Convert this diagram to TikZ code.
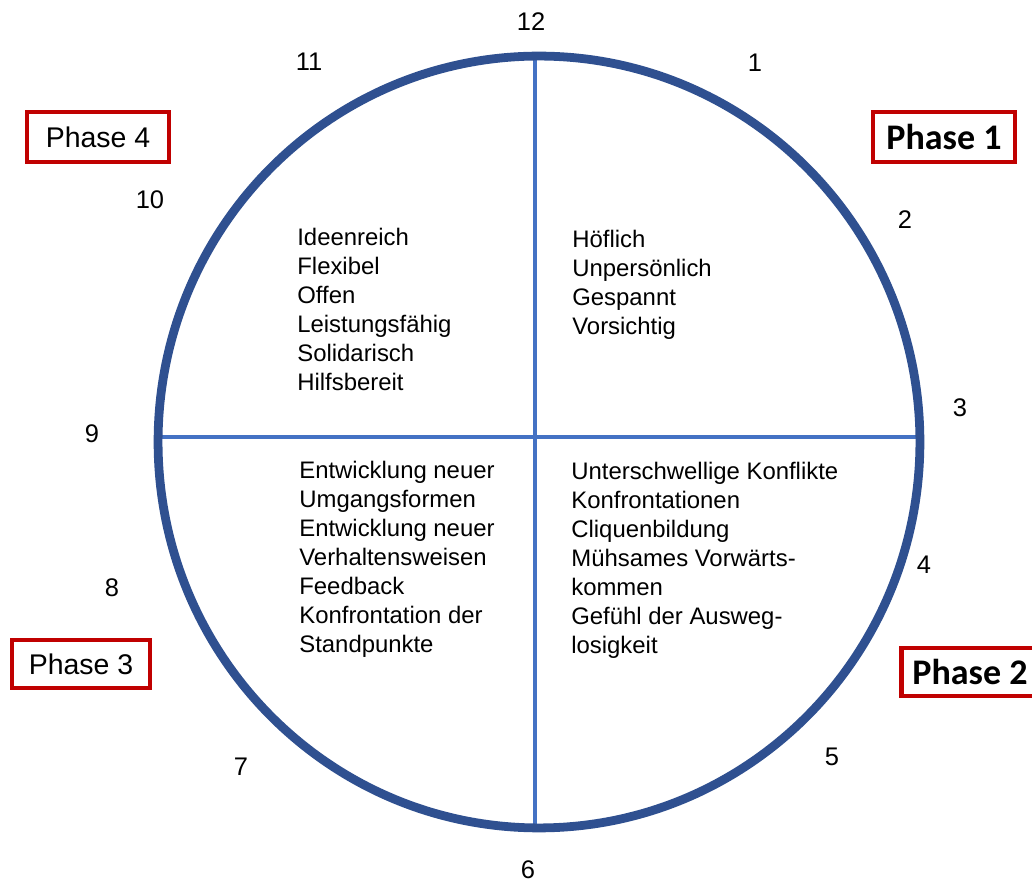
\documentclass[tikz,border=0pt]{standalone}
\usepackage{fontspec}
\setmainfont{Liberation Sans}
\newfontfamily\calibri{Carlito}
\usepackage{xcolor}
\definecolor{ringblue}{HTML}{2F5090}
\definecolor{crossblue}{HTML}{4472C4}
\definecolor{boxred}{HTML}{C00000}

\begin{document}
\begin{tikzpicture}[x=0.02cm, y=-0.02cm]
  \useasboundingbox (0,0) rectangle (1032,884);

  % Key positions
  \def\cx{539}
  \def\cy{442}
  \def\vx{535}
  \def\hy{437}
  \def\bodyfont{\fontsize{13.6}{16.45}\selectfont}

  % Ring and cross
  \coordinate (c) at (\cx,\cy);
  \coordinate (ctop) at (\vx,57);
  \coordinate (cbot) at (\vx,824);
  \coordinate (cleft) at (158,\hy);
  \coordinate (cright) at (920,\hy);
  \draw[crossblue, line width=2.5pt] (ctop) -- (cbot);
  \draw[crossblue, line width=2.5pt] (cleft) -- (cright);
  \draw[ringblue, line width=5pt] (c) ellipse[x radius=7.62cm, y radius=7.72cm];

  % Clock numbers
  \node[font=\fontsize{14.5}{17}\selectfont] (n12) at (531,22) {12};
  \node[font=\fontsize{14.5}{17}\selectfont] (n1) at (755,63) {1};
  \node[font=\fontsize{14.5}{17}\selectfont] (n2) at (905,220) {2};
  \node[font=\fontsize{14.5}{17}\selectfont] (n3) at (960,408) {3};
  \node[font=\fontsize{14.5}{17}\selectfont] (n4) at (924,565) {4};
  \node[font=\fontsize{14.5}{17}\selectfont] (n5) at (832,757) {5};
  \node[font=\fontsize{14.5}{17}\selectfont] (n6) at (528,870) {6};
  \node[font=\fontsize{14.5}{17}\selectfont] (n7) at (241,767) {7};
  \node[font=\fontsize{14.5}{17}\selectfont] (n8) at (112,588) {8};
  \node[font=\fontsize{14.5}{17}\selectfont] (n9) at (92,434) {9};
  \node[font=\fontsize{14.5}{17}\selectfont] (n10) at (150,200) {10};
  \node[font=\fontsize{14.5}{17}\selectfont] (n11) at (309,62) {11};

  % Phase boxes
  \node[draw=boxred, line width=2.3pt, minimum width=2.84cm, minimum height=1.0cm,
        font=\calibri\bfseries\fontsize{20.5}{24}\selectfont] (ph1) at (944,137) {Phase 1};
  \node[draw=boxred, line width=2.3pt, minimum width=2.74cm, minimum height=0.96cm,
        font=\calibri\bfseries\fontsize{20.5}{24}\selectfont] (ph2) at (970,672) {Phase 2};
  \node[draw=boxred, line width=2.3pt, minimum width=2.76cm, minimum height=0.96cm,
        font=\fontsize{16.2}{19}\selectfont] (ph3) at (81,664) {Phase 3};
  \node[draw=boxred, line width=2.3pt, minimum width=2.84cm, minimum height=1.0cm,
        font=\fontsize{16.2}{19}\selectfont] (ph4) at (98,137) {Phase 4};

  % Quarter texts
  \node[anchor=north west, inner sep=0pt, align=left, font=\bodyfont] (q4) at (297,228)
    {Ideenreich\\Flexibel\\Offen\\Leistungsfähig\\Solidarisch\\Hilfsbereit};
  \node[anchor=north west, inner sep=0pt, align=left, font=\bodyfont] (q1) at (572,230)
    {Höflich\\Unpersönlich\\Gespannt\\Vorsichtig};
  \node[anchor=north west, inner sep=0pt, align=left, font=\bodyfont] (q3) at (299,461)
    {Entwicklung neuer\\Umgangsformen\\Entwicklung neuer\\Verhaltensweisen\\Feedback\\Konfrontation der\\Standpunkte};
  \node[anchor=north west, inner sep=0pt, align=left, font=\bodyfont] (q2) at (571,462)
    {Unterschwellige Konflikte\\Konfrontationen\\Cliquenbildung\\Mühsames Vorwärts-\\kommen\\Gefühl der Ausweg-\\losigkeit};
\end{tikzpicture}
\end{document}
